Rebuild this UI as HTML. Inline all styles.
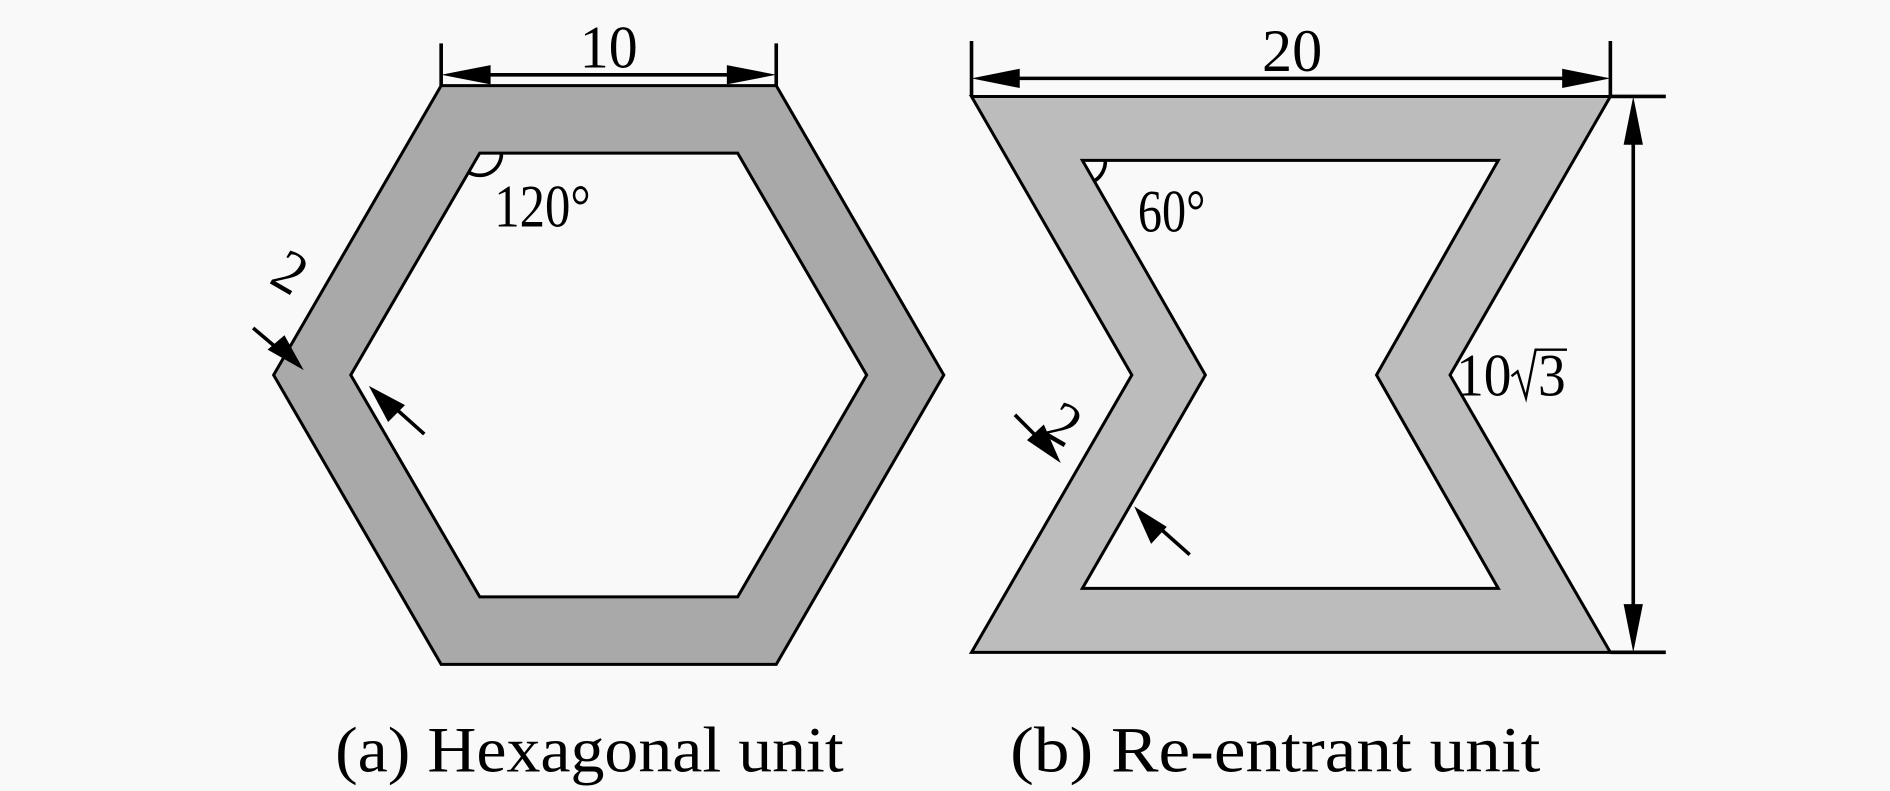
<!DOCTYPE html>
<html><head><meta charset="utf-8"><style>
html,body{margin:0;padding:0;background:#f9f9f9;}
svg{display:block;}
text{font-family:"Liberation Serif",serif;fill:#000;}
</style></head><body>
<svg width="1890" height="791" viewBox="0 0 1568 656" preserveAspectRatio="none" xmlns="http://www.w3.org/2000/svg">
<rect width="1568" height="656" fill="#f9f9f9"/>
<!-- Hexagon -->
<path fill-rule="evenodd" fill="#a9a9a9" stroke="#000" stroke-width="2.5"
 d="M366,71 L644,71 L783,311 L644,551 L366,551 L227,311 Z
    M398,127 L612,127 L719,311 L612,495 L398,495 L291,311 Z"/>
<g stroke="#000" stroke-width="3" fill="none">
<line x1="366" y1="36" x2="366" y2="71"/>
<line x1="644" y1="36" x2="644" y2="71"/>
<line x1="380" y1="62" x2="630" y2="62"/>
<path d="M416,127 A18,18 0 0 1 389,143"/>
<line x1="210" y1="272" x2="236" y2="294"/>
<line x1="352" y1="360" x2="324" y2="335"/>
</g>
<g fill="#000">
<polygon points="366,62 407,54 407,70"/>
<polygon points="644,62 603,54 603,70"/>
<polygon points="252,307 222,290 236,278"/>
<polygon points="306,320 336,336 322,350"/>
</g>
<text x="481" y="56" font-size="50" textLength="48" lengthAdjust="spacingAndGlyphs">10</text>
<text x="410" y="188" font-size="50" textLength="80" lengthAdjust="spacingAndGlyphs">120°</text>
<text x="0" y="0" font-size="50" textLength="24" lengthAdjust="spacingAndGlyphs" transform="translate(222,234) rotate(30)">2</text>
<!-- Re-entrant -->
<path fill-rule="evenodd" fill="#bcbcbc" stroke="#000" stroke-width="2.5"
 d="M806,80 L1336,80 L1203,311 L1336,541 L806,541 L939,311 Z
    M898,133 L1243,133 L1142,311 L1243,488 L898,488 L1000,311 Z"/>
<g stroke="#000" stroke-width="3" fill="none">
<line x1="806" y1="34" x2="806" y2="80"/>
<line x1="1336" y1="34" x2="1336" y2="80"/>
<line x1="820" y1="65" x2="1322" y2="65"/>
<line x1="1336" y1="80" x2="1382" y2="80"/>
<line x1="1336" y1="541" x2="1382" y2="541"/>
<line x1="1355" y1="95" x2="1355" y2="526"/>
<path d="M917,133 A19,19 0 0 1 908,150"/>
<line x1="842" y1="344" x2="866" y2="368"/>
<line x1="987" y1="460" x2="960" y2="436"/>
</g>
<g fill="#000">
<polygon points="806,65 846,57 846,73"/>
<polygon points="1336,65 1296,57 1296,73"/>
<polygon points="1355,80 1347,120 1363,120"/>
<polygon points="1355,541 1347,501 1363,501"/>
<polygon points="880,384 852,365 866,352"/>
<polygon points="941,420 968,437 955,451"/>
</g>
<text x="1047" y="59" font-size="50" textLength="50" lengthAdjust="spacingAndGlyphs">20</text>
<text x="944" y="192" font-size="50" textLength="56" lengthAdjust="spacingAndGlyphs">60°</text>
<text x="1208" y="328" font-size="50" textLength="46" lengthAdjust="spacingAndGlyphs">10</text>
<path d="M1254,312 L1259,308 L1266,330 L1274,290 L1300,290" stroke="#000" stroke-width="2" fill="none"/>
<text x="1276" y="328" font-size="50" textLength="23" lengthAdjust="spacingAndGlyphs">3</text>
<text x="0" y="0" font-size="50" textLength="24" lengthAdjust="spacingAndGlyphs" transform="translate(864,360) rotate(30)">2</text>
<!-- captions -->
<text x="278" y="640" font-size="54" textLength="422" lengthAdjust="spacingAndGlyphs">(a) Hexagonal unit</text>
<text x="838" y="640" font-size="54" textLength="440" lengthAdjust="spacingAndGlyphs">(b) Re-entrant unit</text>
</svg>
</body></html>
